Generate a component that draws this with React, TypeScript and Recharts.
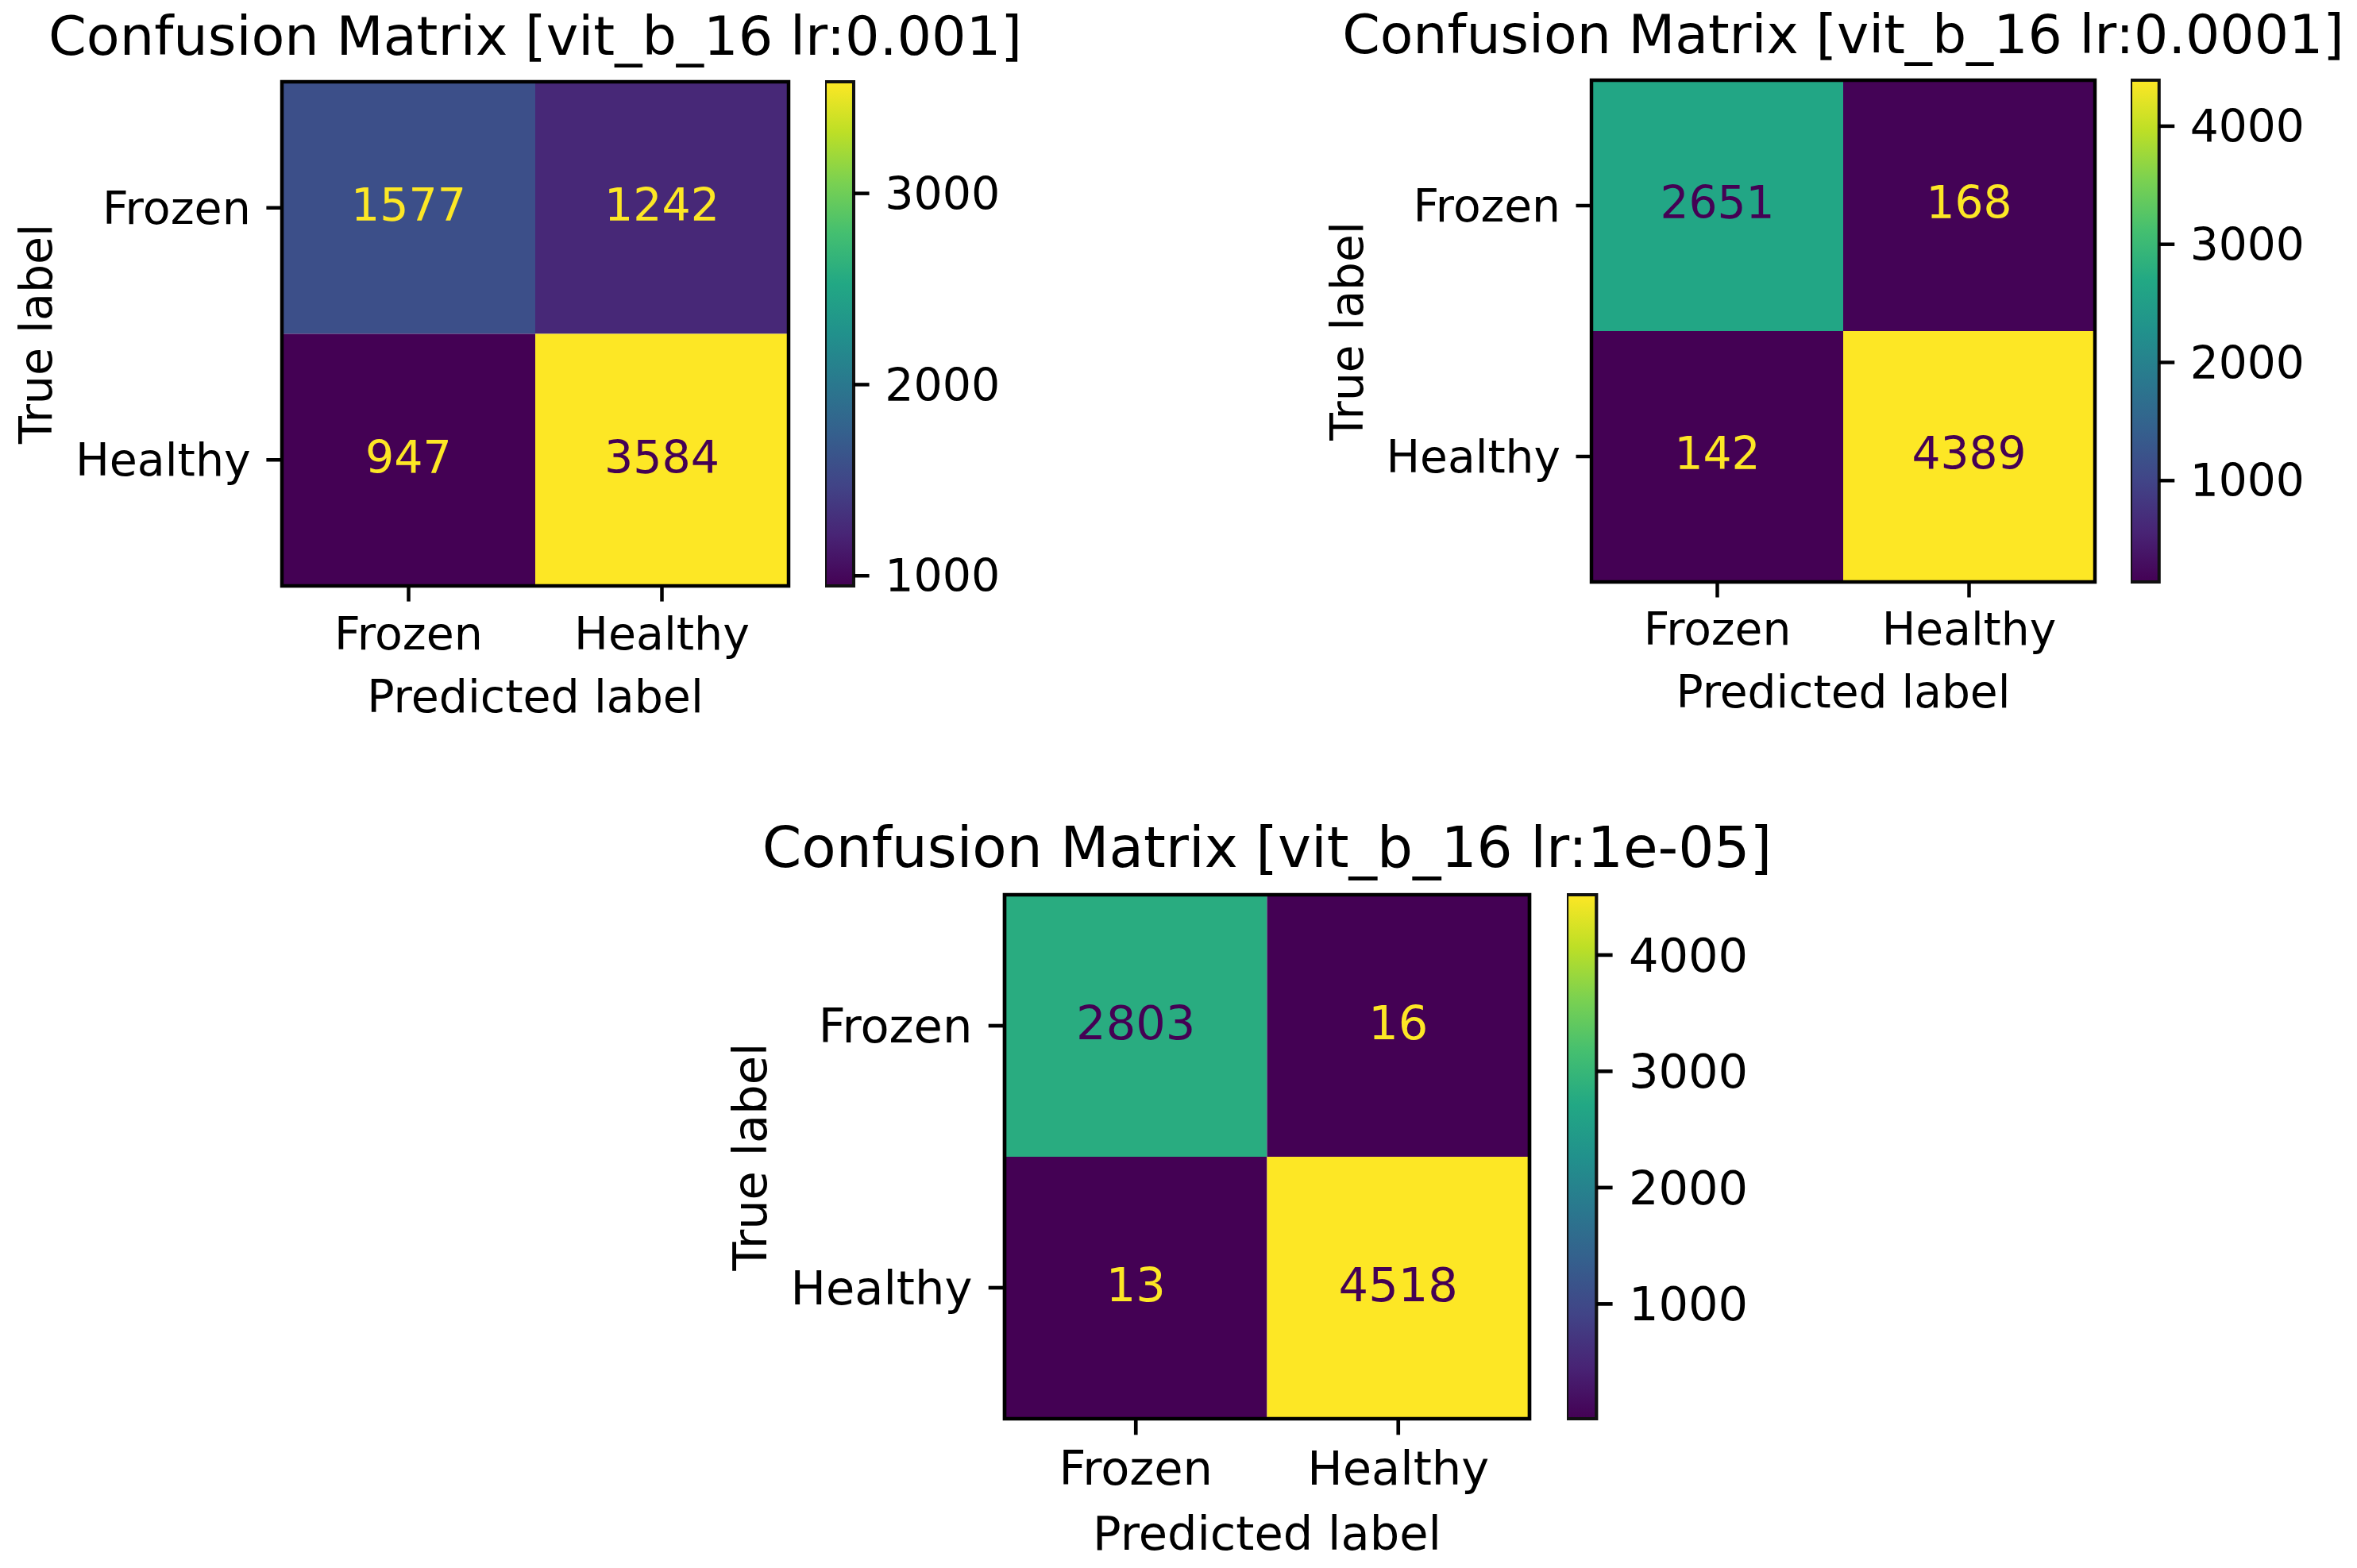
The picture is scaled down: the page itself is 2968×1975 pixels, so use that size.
import { ScatterChart, Scatter, XAxis, YAxis, ReferenceArea } from "recharts";

const CLASS_NAMES = ["Frozen", "Healthy"];

const TITLES = [
  "Confusion Matrix [vit_b_16 lr:0.001]",
  "Confusion Matrix [vit_b_16 lr:0.0001]",
  "Confusion Matrix [vit_b_16 lr:1e-05]",
];

// rows = true label, cols = predicted label
const CM_LR_1E3 = [
  [1577, 1242],
  [947, 3584],
];
const CM_LR_1E4 = [
  [2651, 168],
  [142, 4389],
];
const CM_LR_1E5 = [
  [2803, 16],
  [13, 4518],
];

const CBAR_TICKS_LR_1E3 = [1000, 2000, 3000];
const CBAR_TICKS_LR_1E4 = [1000, 2000, 3000, 4000];
const CBAR_TICKS_LR_1E5 = [1000, 2000, 3000, 4000];

// viridis colormap stops
const VIRIDIS = [
  "#440154", "#482475", "#414487", "#355f8d", "#2a788e", "#21918c",
  "#22a884", "#44bf70", "#7ad151", "#bddf26", "#fde725",
];

function hexToRgb(h: string) {
  return [1, 3, 5].map((i) => parseInt(h.slice(i, i + 2), 16));
}

function viridis(t: number) {
  const v = Math.max(0, Math.min(1, t)) * (VIRIDIS.length - 1);
  const i = Math.min(Math.floor(v), VIRIDIS.length - 2);
  const f = v - i;
  const a = hexToRgb(VIRIDIS[i]);
  const b = hexToRgb(VIRIDIS[i + 1]);
  const c = a.map((x, k) => Math.round(x + (b[k] - x) * f));
  return `rgb(${c[0]},${c[1]},${c[2]})`;
}

// page layout of each panel (plot box in px, s = text/line scale)
const PANELS = [
  { title: TITLES[0], matrix: CM_LR_1E3, ticks: CBAR_TICKS_LR_1E3, left: 355, top: 103, w: 638, h: 635, cbLeft: 1039, s: 1 },
  { title: TITLES[1], matrix: CM_LR_1E4, ticks: CBAR_TICKS_LR_1E4, left: 2004, top: 101, w: 634, h: 632, cbLeft: 2683, s: 0.994 },
  { title: TITLES[2], matrix: CM_LR_1E5, ticks: CBAR_TICKS_LR_1E5, left: 1265, top: 1127, w: 661, h: 660, cbLeft: 1973, s: 1.036 },
];

const Y_AXIS_W = 360;
const X_AXIS_H = 200;
const PAD = 20;
const FONT = 57;
const TITLE_FONT = 68.5;

function ConfusionPanel({ p, idx }: { p: (typeof PANELS)[number]; idx: number }) {
  const cells = p.matrix.flatMap((row, r) => row.map((v, c) => ({ x: c, y: r, v })));
  const values = cells.map((d) => d.v);
  const vmin = Math.min(...values);
  const vmax = Math.max(...values);
  const mid = (vmin + vmax) / 2;
  const fs = FONT * p.s;
  const tick = 19.6 * p.s;
  const lw = 4.5 * p.s;
  const cbW = 36 * p.s;
  const gradId = `viridis-${idx}`;
  const cbTicks = p.ticks.map((t) => ({ x: 1, y: t }));

  return (
    <>
      <div style={{ position: "absolute", left: p.left - Y_AXIS_W, top: p.top - PAD }}>
        <ScatterChart
          width={Y_AXIS_W + p.w + PAD}
          height={PAD + p.h + X_AXIS_H}
          margin={{ top: PAD, right: PAD, bottom: 0, left: 0 }}
        >
          <XAxis
            type="number"
            dataKey="x"
            domain={[-0.5, 1.5]}
            allowDataOverflow
            ticks={[0, 1]}
            interval={0}
            tickFormatter={(i: number) => CLASS_NAMES[i]}
            height={X_AXIS_H}
            axisLine={false}
            tickLine={{ stroke: "#000", strokeWidth: lw }}
            tickSize={tick}
            tickMargin={tick}
            tick={{ fill: "#000", fontSize: fs }}
          />
          <YAxis
            type="number"
            dataKey="y"
            domain={[-0.5, 1.5]}
            allowDataOverflow
            reversed
            ticks={[0, 1]}
            interval={0}
            tickFormatter={(i: number) => CLASS_NAMES[i]}
            width={Y_AXIS_W}
            axisLine={false}
            tickLine={{ stroke: "#000", strokeWidth: lw }}
            tickSize={tick}
            tickMargin={tick}
            tick={{ fill: "#000", fontSize: fs }}
          />
          {cells.map((d) => (
            <ReferenceArea
              key={`${d.x}-${d.y}`}
              x1={d.x - 0.5}
              x2={d.x + 0.5}
              y1={d.y - 0.5}
              y2={d.y + 0.5}
              fill={viridis((d.v - vmin) / (vmax - vmin))}
              fillOpacity={1}
              stroke="none"
            />
          ))}
          <ReferenceArea x1={-0.5} x2={1.5} y1={-0.5} y2={1.5} fill="none" stroke="#000" strokeWidth={lw} />
          <Scatter
            data={cells}
            isAnimationActive={false}
            shape={(props: any) => (
              <text
                x={props.cx}
                y={props.cy + 0.29 * fs}
                textAnchor="middle"
                fontSize={fs}
                fill={props.payload.v < mid ? VIRIDIS[VIRIDIS.length - 1] : VIRIDIS[0]}
              >
                {props.payload.v}
              </text>
            )}
          />
        </ScatterChart>
      </div>

      {/* colorbar */}
      <div style={{ position: "absolute", left: p.cbLeft, top: p.top - PAD }}>
        <ScatterChart
          width={cbW + 260}
          height={p.h + 2 * PAD}
          margin={{ top: PAD, right: 260, bottom: PAD, left: 0 }}
        >
          <defs>
            <linearGradient id={gradId} x1="0" y1="1" x2="0" y2="0">
              {VIRIDIS.map((c, i) => (
                <stop key={i} offset={i / (VIRIDIS.length - 1)} stopColor={c} />
              ))}
            </linearGradient>
          </defs>
          <XAxis type="number" dataKey="x" domain={[0, 1]} hide />
          <YAxis type="number" dataKey="y" domain={[vmin, vmax]} hide />
          <ReferenceArea
            x1={0}
            x2={1}
            y1={vmin}
            y2={vmax}
            fill={`url(#${gradId})`}
            fillOpacity={1}
            stroke="#111"
            strokeWidth={lw * 0.9}
          />
          <Scatter
            data={cbTicks}
            isAnimationActive={false}
            shape={(props: any) => (
              <g>
                <line x1={props.cx} x2={props.cx + tick} y1={props.cy} y2={props.cy} stroke="#000" strokeWidth={lw} />
                <text x={props.cx + 2 * tick} y={props.cy + 0.355 * fs} fontSize={fs} fill="#000">
                  {props.payload.y}
                </text>
              </g>
            )}
          />
        </ScatterChart>
      </div>
    </>
  );
}

export default function App() {
  return (
    <div
      style={{
        position: "absolute",
        left: 0,
        top: 0,
        width: 2968,
        height: 1975,
        background: "#fff",
        fontFamily: "'DejaVu Sans', sans-serif",
      }}
    >
      {PANELS.map((p, i) => (
        <ConfusionPanel key={i} p={p} idx={i} />
      ))}
      <svg width={2968} height={1975} style={{ position: "absolute", left: 0, top: 0, pointerEvents: "none" }}>
        {PANELS.map((p, i) => {
          const cx = p.left + p.w / 2;
          const cy = p.top + p.h / 2;
          const yl = p.left - 290 * p.s;
          return (
            <g key={i} fill="#000">
              <text x={cx} y={p.top - 34 * p.s} textAnchor="middle" fontSize={TITLE_FONT * p.s}>
                {p.title}
              </text>
              <text x={cx} y={p.top + p.h + 159 * p.s} textAnchor="middle" fontSize={FONT * p.s}>
                Predicted label
              </text>
              <text x={yl} y={cy} textAnchor="middle" fontSize={FONT * p.s} transform={`rotate(-90 ${yl} ${cy})`}>
                True label
              </text>
            </g>
          );
        })}
      </svg>
    </div>
  );
}
